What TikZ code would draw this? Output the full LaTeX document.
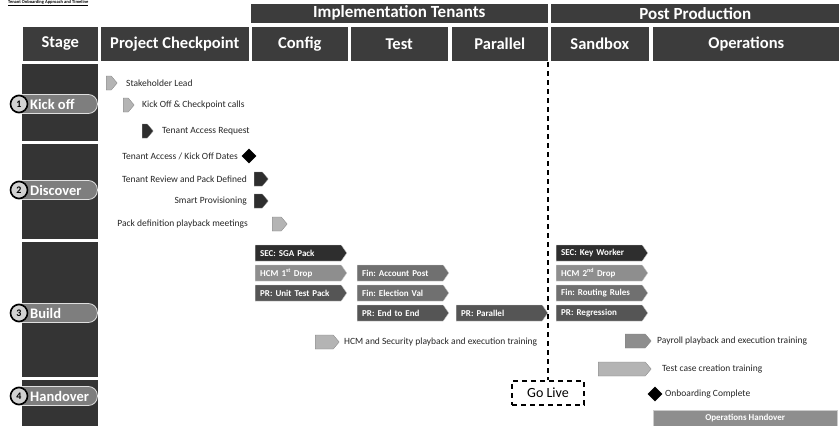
\documentclass[tikz,border=0pt]{standalone}
\usepackage{fontspec}
\setmainfont{Carlito}
\usetikzlibrary{shapes.symbols,shapes.geometric}
\definecolor{hdr}{HTML}{3C3C3C}
\definecolor{stagebg}{HTML}{343434}
\definecolor{pillc}{HTML}{7E7E7E}
\definecolor{dk}{HTML}{2E2E2E}
\definecolor{md}{HTML}{555555}
\definecolor{mg}{HTML}{707070}
\definecolor{lg}{HTML}{8E8E8E}
\definecolor{vl}{HTML}{B4B4B4}
\tikzset{
  hdrbox/.style={draw=white, line width=0.6pt, fill=hdr, text=white, inner sep=0pt, anchor=north west,
    font=\bfseries\fontsize{16.5}{16.5}\selectfont},
  hdrtop/.style={hdrbox, font=\bfseries\fontsize{17}{17}\selectfont},
  stagebox/.style={fill=stagebg, inner sep=0pt, anchor=north west, minimum width=76pt},
  pillbox/.style={draw=white!75!gray, line width=0.8pt, fill=pillc, rounded corners=9pt, minimum height=19pt, anchor=west},
  numc/.style={circle, draw=black, line width=1.6pt, fill=gray!35, inner sep=0pt, minimum size=17pt,
    font=\bfseries\fontsize{10}{10}\selectfont},
  pilltext/.style={text=white, anchor=west, inner sep=0pt, font=\bfseries\fontsize{14.5}{14.5}\selectfont},
  item/.style={inner sep=0pt, font=\fontsize{9.5}{10}\selectfont, text=black!85},
  icon/.style={signal, signal to=east, signal pointer angle=100, draw=gray, line width=0.3pt, inner sep=0pt,
    minimum width=11pt, minimum height=14pt, anchor=west},
  diam/.style={diamond, fill=black, inner sep=0pt, minimum size=15pt},
  bbox/.style={signal, signal to=east, signal pointer angle=110, draw=white!60!gray, line width=0.4pt,
    minimum height=16pt, minimum width=91pt, text width=76pt, align=left, inner xsep=5pt, inner ysep=1pt, text=white,
    anchor=west, font=\bfseries\fontsize{9}{9}\selectfont},
  livebox/.style={draw=black, line width=1.1pt, dash pattern=on 5pt off 4pt, minimum width=72pt, minimum height=24pt,
    font=\fontsize{14}{14}\selectfont},
}
\begin{document}
\frenchspacing
\begin{tikzpicture}[x=1pt,y=-1pt]
\useasboundingbox (0,0) rectangle (839,426);
% title (thin strip at top)
\node[anchor=north west, inner sep=0pt, font=\bfseries\fontsize{4.5}{4.5}\selectfont] (title) at (8,0) {\underline{Tenant Onboarding Approach and Timeline}};
% header row 1
\node[hdrtop, minimum width=298pt, minimum height=20pt] (impl) at (250,3) {Implementation Tenants};
\node[hdrtop, minimum width=290pt, minimum height=20pt] (post) at (550,3) {Post Production};
% header row 2
\node[hdrbox, minimum width=76pt, minimum height=35pt] (hstage) at (22,26) {Stage};
\node[hdrbox, minimum width=149pt, minimum height=35pt] (hpc) at (100,26) {Project Checkpoint};
\node[hdrbox, minimum width=97pt, minimum height=35pt] (hconf) at (251,26) {Config};
\node[hdrbox, minimum width=98pt, minimum height=35pt] (htest) at (350,26) {Test};
\node[hdrbox, minimum width=97pt, minimum height=35pt] (hpar) at (451,26) {Parallel};
\node[hdrbox, minimum width=99pt, minimum height=35pt] (hsand) at (550,26) {Sandbox};
\node[hdrbox, minimum width=188pt, minimum height=35pt] (hops) at (652,26) {Operations};
% stage column
\node[stagebox, minimum height=77pt] (s1) at (22,64) {};
\node[stagebox, minimum height=95pt] (s2) at (22,144) {};
\node[stagebox, minimum height=135pt] (s3) at (22,242) {};
\node[stagebox, minimum height=47pt] (s4) at (22,380) {};
% pills
\node[pillbox, minimum width=87pt] (p1) at (10,104) {};
\node[numc] (n1) at (19,104) {1};
\node[pilltext] (l1) at (30,104) {Kick off};
\node[pillbox, minimum width=87pt] (p2) at (10,190) {};
\node[numc] (n2) at (19,190) {2};
\node[pilltext] (l2) at (30,190) {Discover};
\node[pillbox, minimum width=87pt] (p3) at (10,313) {};
\node[numc] (n3) at (19,313) {3};
\node[pilltext] (l3) at (30,313) {Build};
\node[pillbox, minimum width=87pt] (p4) at (10,396) {};
\node[numc] (n4) at (19,396) {4};
\node[pilltext] (l4) at (30,396) {Handover};
% project checkpoint items
\node[icon, fill=vl] (i1) at (106,83) {};
\node[item, anchor=west] (t1) at (126,83) {Stakeholder Lead};
\node[icon, fill=vl] (i2) at (123,105) {};
\node[item, anchor=west] (t2) at (142,105) {Kick Off \& Checkpoint calls};
\node[icon, fill=dk] (i3) at (142,131) {};
\node[item, anchor=west] (t3) at (162,131) {Tenant Access Request};
\node[diam] (d1) at (249,156) {};
\node[item, anchor=east] (t4) at (238,156) {Tenant Access / Kick Off Dates};
\node[icon, fill=dk, minimum width=14pt] (i5) at (254,179) {};
\node[item, anchor=east] (t5) at (247,179) {Tenant Review and Pack Defined};
\node[icon, fill=dk, minimum width=14pt] (i6) at (254,201) {};
\node[item, anchor=east] (t6) at (247,201) {Smart Provisioning};
\node[icon, fill=vl, minimum width=15pt] (i7) at (272,224) {};
\node[item, anchor=east] (t7) at (248,224) {Pack definition playback meetings};
% build boxes
\node[bbox, fill=dk] (b1) at (255,253) {SEC: SGA Pack};
\node[bbox, fill=lg] (b2) at (255,273) {HCM 1\textsuperscript{st} Drop};
\node[bbox, fill=md] (b3) at (255,293) {PR: Unit Test Pack};
\node[bbox, fill=mg] (b4) at (357,273) {Fin: Account Post};
\node[bbox, fill=mg] (b5) at (357,293) {Fin: Election Val};
\node[bbox, fill=md] (b6) at (357,313) {PR: End to End};
\node[bbox, fill=md] (b7) at (456,313) {PR: Parallel};
\node[bbox, fill=dk] (b8) at (556,253) {SEC: Key Worker};
\node[bbox, fill=lg] (b9) at (556,273) {HCM 2\textsuperscript{nd} Drop};
\node[bbox, fill=mg] (b10) at (556,293) {Fin: Routing Rules};
\node[bbox, fill=md] (b11) at (556,313) {PR: Regression};
% training items
\node[icon, fill=vl, minimum width=24pt] (i8) at (315,342) {};
\node[item, anchor=west] (t8) at (344,342) {HCM and Security playback and execution training};
\node[icon, fill=lg, minimum width=26pt] (i9) at (625,341) {};
\node[item, anchor=west] (t9) at (657,341) {Payroll playback and execution training};
\node[icon, fill=vl, minimum width=53pt] (i10) at (598,369) {};
\node[item, anchor=west] (t10) at (662,369) {Test case creation training};
\node[diam] (d2) at (655,394) {};
\node[item, anchor=west] (t11) at (665,394) {Onboarding Complete};
\node[fill=lg, draw=white!60!gray, line width=0.4pt, minimum width=184pt, minimum height=16pt, inner sep=0pt, anchor=north west,
  text=white, font=\bfseries\fontsize{9}{9}\selectfont] (oh) at (653,410) {Operations Handover};
% go live
\coordinate (gltop) at (548,62);
\node[livebox] (golive) at (548,393) {Go Live};
\draw[line width=1.1pt, dash pattern=on 5pt off 4pt] (gltop) -- (golive.north);
\end{tikzpicture}
\end{document}
